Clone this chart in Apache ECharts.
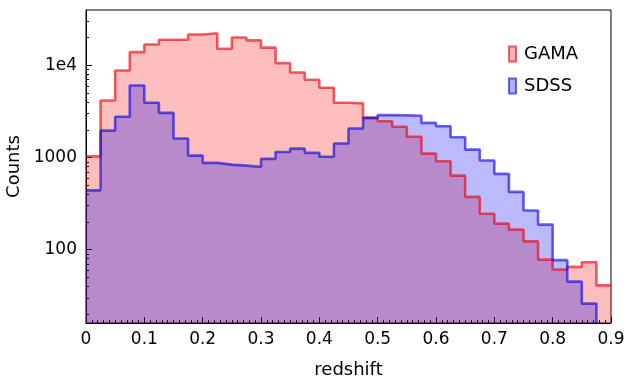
<!DOCTYPE html>
<html>
<head>
<meta charset="utf-8">
<script src="https://cdn.jsdelivr.net/npm/echarts@6/dist/echarts.min.js"></script>
<style>
  html, body { margin: 0; padding: 0; background: #fff; }
  #chart { width: 625px; height: 378px; }
</style>
</head>
<body>
<div id="chart"></div>
<script>
// histogram bins: 0 .. 0.9 in steps of 0.025
const binWidth = 0.025
const gamaCounts = [1030, 4170, 8830, 13950, 16900, 19000, 19000, 21700, 22400, 15200,
  20100, 18700, 15600, 10600, 8400, 7000, 5720, 3930, 3880, 2700,
  2480, 2160, 1680, 1105, 912, 637, 374, 246, 192, 165,
  123, 78, 61, 65, 73, 41]
const sdssCounts = [441, 1960, 2770, 6060, 3930, 3060, 1610, 1050, 876, 839,
  818, 792, 968, 1150, 1250, 1125, 1020, 1420, 2070, 2700,
  2890, 2870, 2850, 2380, 2190, 1660, 1220, 928, 665, 424,
  266, 187, 77, 45, 26, 0]
const xTicks = [0, 0.1, 0.2, 0.3, 0.4, 0.5, 0.6, 0.7, 0.8, 0.9]
const yMajorTicks = [100, 1000, 10000]
const yMinorTicks = [20, 30, 40, 50, 60, 70, 80, 90,
  200, 300, 400, 500, 600, 700, 800, 900,
  2000, 3000, 4000, 5000, 6000, 7000, 8000, 9000,
  20000, 30000]

const labelFont = 'DejaVu Sans'

// step points at bin edges, last edge repeats the last bin
// empty bins go below the axis floor so the step drops to the bottom
const toSteps = counts => {
  const pts = counts.map((c, i) => [+(i * binWidth).toFixed(3), c > 0 ? c : 1])
  const last = counts[counts.length - 1]
  pts.push([+(counts.length * binWidth).toFixed(3), last > 0 ? last : 1])
  return pts
}

const chart = echarts.init(document.getElementById('chart'), null, { renderer: 'canvas' })

const option = {
  animation: false,
  grid: {
    left: 86, right: 14, top: 10, bottom: 55,
    outerBoundsMode: 'none',
    containLabel: false,
    show: true, borderColor: '#000', borderWidth: 1, backgroundColor: 'transparent'
  },
  legend: {
    orient: 'vertical',
    left: 503,
    top: 40,
    itemWidth: 7,
    itemHeight: 15,
    itemGap: 14,
    icon: 'rect',
    textStyle: { fontFamily: labelFont, fontSize: 18, color: '#000', padding: [0, 0, 0, 3] },
    data: [
      { name: 'GAMA', itemStyle: { color: 'rgba(245,0,0,0.3)', borderColor: 'rgba(225,0,10,0.6)', borderWidth: 2 } },
      { name: 'SDSS', itemStyle: { color: 'rgba(0,0,245,0.3)', borderColor: 'rgba(10,0,225,0.6)', borderWidth: 2 } }
    ]
  },
  xAxis: {
    type: 'value',
    min: xTicks[0],
    max: xTicks[xTicks.length - 1],
    interval: 0.1,
    name: 'redshift',
    nameLocation: 'middle',
    nameGap: 38,
    nameTextStyle: { fontFamily: labelFont, fontSize: 18, color: '#000' },
    axisLine: { show: true, onZero: false, lineStyle: { color: '#000', width: 1 } },
    axisTick: { show: true, inside: true, length: 6, lineStyle: { color: '#000' } },
    minorTick: { show: true, splitNumber: 10, length: 3, lineStyle: { color: '#000' } },
    splitLine: { show: false },
    axisLabel: { fontFamily: labelFont, fontSize: 17, color: '#000', margin: 8 }
  },
  yAxis: [
    {
      type: 'log',
      logBase: 10,
      min: 16,
      max: 40000,
      name: 'Counts',
      nameLocation: 'middle',
      nameGap: 58,
      nameTextStyle: { fontFamily: labelFont, fontSize: 18, color: '#000' },
      axisLine: { show: true, lineStyle: { color: '#000', width: 1 } },
      axisTick: { show: true, inside: true, length: 6, lineStyle: { color: '#000' }, customValues: yMajorTicks },
      splitLine: { show: false },
      axisLabel: {
        fontFamily: labelFont, fontSize: 17, color: '#000', margin: 9,
        customValues: yMajorTicks,
        formatter: v => (v >= 9999 ? '1e4' : String(Math.round(v)))
      }
    },
    {
      type: 'log',
      logBase: 10,
      min: 16,
      max: 40000,
      position: 'left',
      axisLine: { show: false },
      axisTick: { show: true, inside: true, length: 3, lineStyle: { color: '#000' }, customValues: yMinorTicks },
      axisLabel: { show: false },
      splitLine: { show: false }
    }
  ],
  series: [
    {
      name: 'GAMA',
      type: 'line',
      step: 'end',
      symbol: 'none',
      data: toSteps(gamaCounts),
      lineStyle: { color: 'rgba(228,0,10,0.62)', width: 2.6 },
      itemStyle: { color: 'rgba(228,0,10,0.62)' },
      areaStyle: { color: 'rgba(245,0,0,0.26)', opacity: 1, origin: 'start' },
      clip: true
    },
    {
      name: 'SDSS',
      type: 'line',
      step: 'end',
      symbol: 'none',
      data: toSteps(sdssCounts),
      lineStyle: { color: 'rgba(10,0,228,0.62)', width: 2.6 },
      itemStyle: { color: 'rgba(10,0,228,0.62)' },
      areaStyle: { color: 'rgba(0,0,245,0.27)', opacity: 1, origin: 'start' },
      clip: true
    }
  ]
}

chart.setOption(option)
window.addEventListener('resize', () => chart.resize())
</script>
</body>
</html>
